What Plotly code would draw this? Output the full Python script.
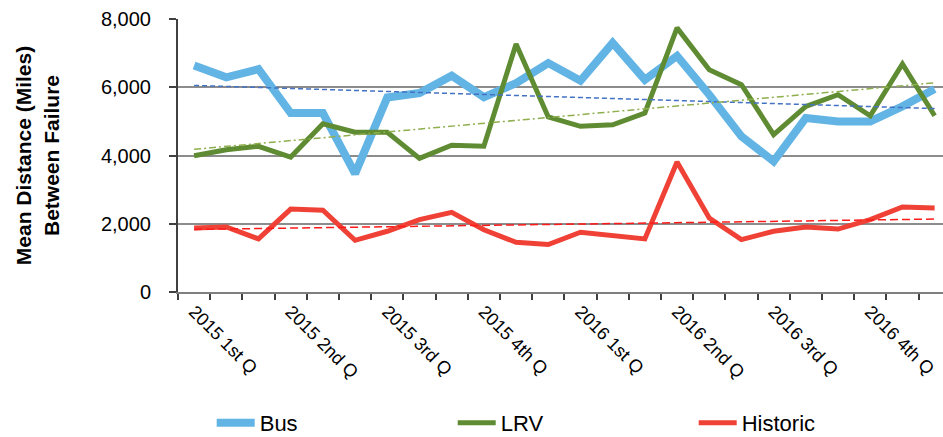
import numpy as np
import plotly.graph_objects as go

# 24 monthly observations, Jan 2015 - Dec 2016
months = list(range(24))
bus = [6640, 6290, 6530, 5245, 5245, 3470, 5700, 5830, 6340, 5710, 6120, 6710,
       6190, 7300, 6220, 6920, 5780, 4560, 3830, 5100, 5000, 5000, 5440, 5950]
lrv = [3995, 4170, 4270, 3955, 4930, 4680, 4680, 3915, 4300, 4270, 7270, 5130,
       4855, 4900, 5245, 7740, 6515, 6075, 4610, 5440, 5780, 5165, 6680, 5165]
historic = [1875, 1905, 1555, 2430, 2395, 1515, 1780, 2120, 2335, 1825, 1455, 1390,
            1750, 1650, 1555, 3810, 2170, 1535, 1780, 1905, 1845, 2120, 2490, 2460]

label_pos = [0, 3, 6, 9, 12, 15, 18, 21]
label_text = ["2015 1st Q", "2015 2nd Q", "2015 3rd Q", "2015 4th Q",
              "2016 1st Q", "2016 2nd Q", "2016 3rd Q", "2016 4th Q"]

y_ticks = [0, 2000, 4000, 6000, 8000]

FONT = "Liberation Sans, Arial, sans-serif"


def trend(vals):
    c = np.polyfit(months, vals, 1)
    return list(np.polyval(c, months))


fig = go.Figure()
fig.add_trace(go.Scatter(x=months, y=bus, name="Bus", mode="lines",
                         line=dict(color="#62B4E5", width=8)))
fig.add_trace(go.Scatter(x=months, y=lrv, name="LRV", mode="lines",
                         line=dict(color="#5F8C32", width=5)))
fig.add_trace(go.Scatter(x=months, y=historic, name="Historic", mode="lines",
                         line=dict(color="#EF4136", width=5)))
fig.add_trace(go.Scatter(x=months, y=trend(bus), mode="lines", showlegend=False,
                         hoverinfo="skip",
                         line=dict(color="#4472C4", width=1.5, dash="5px,3px")))
fig.add_trace(go.Scatter(x=months, y=trend(lrv), mode="lines", showlegend=False,
                         hoverinfo="skip",
                         line=dict(color="#8FAF4F", width=1.5, dash="7px,3px,2px,3px")))
fig.add_trace(go.Scatter(x=months, y=trend(historic), mode="lines", showlegend=False,
                         hoverinfo="skip",
                         line=dict(color="#FF1A1A", width=1.5, dash="8px,4px")))

fig.update_layout(
    width=943, height=437, autosize=False,
    margin=dict(l=178, r=0, t=19, b=145, autoexpand=False),
    paper_bgcolor="white", plot_bgcolor="white",
    font=dict(family=FONT, color="#000000"),
    showlegend=True,
    legend=dict(orientation="h", xref="container", yref="container",
                x=0.2245, y=0.032, xanchor="left", yanchor="middle",
                entrywidth=188, entrywidthmode="pixels",
                font=dict(size=22, family=FONT), itemwidth=38,
                bgcolor="rgba(0,0,0,0)"),
)
fig.update_xaxes(
    range=[-0.5, 23.26], tickmode="array", tickvals=label_pos, ticktext=label_text,
    tickangle=45, ticks="", showgrid=False, zeroline=False,
    showline=True, linecolor="#7F7F7F", linewidth=2,
    tickfont=dict(size=18, family=FONT),
    minor=dict(tick0=-0.5, dtick=1, ticks="outside", ticklen=6, tickwidth=1.5,
               tickcolor="#404040", showgrid=False),
)
fig.update_yaxes(
    range=[0, 8000], tickmode="array", tickvals=y_ticks, tickformat=",d",
    ticks="outside", ticklen=7, tickwidth=1.5, tickcolor="#404040",
    ticklabelstandoff=14,
    showgrid=True, gridcolor="#8C8C8C", gridwidth=2, zeroline=False,
    showline=True, linecolor="#404040", linewidth=2,
    tickfont=dict(size=20, family=FONT),
    title=dict(text="<b>Mean Distance (Miles)<br>Between Failure</b>",
               font=dict(size=21, family=FONT), standoff=36),
)

fig.write_html("out.html",
               config={"displayModeBar": False},
               post_script="document.body.style.margin='0px';"
                           "document.body.style.overflow='hidden';")
